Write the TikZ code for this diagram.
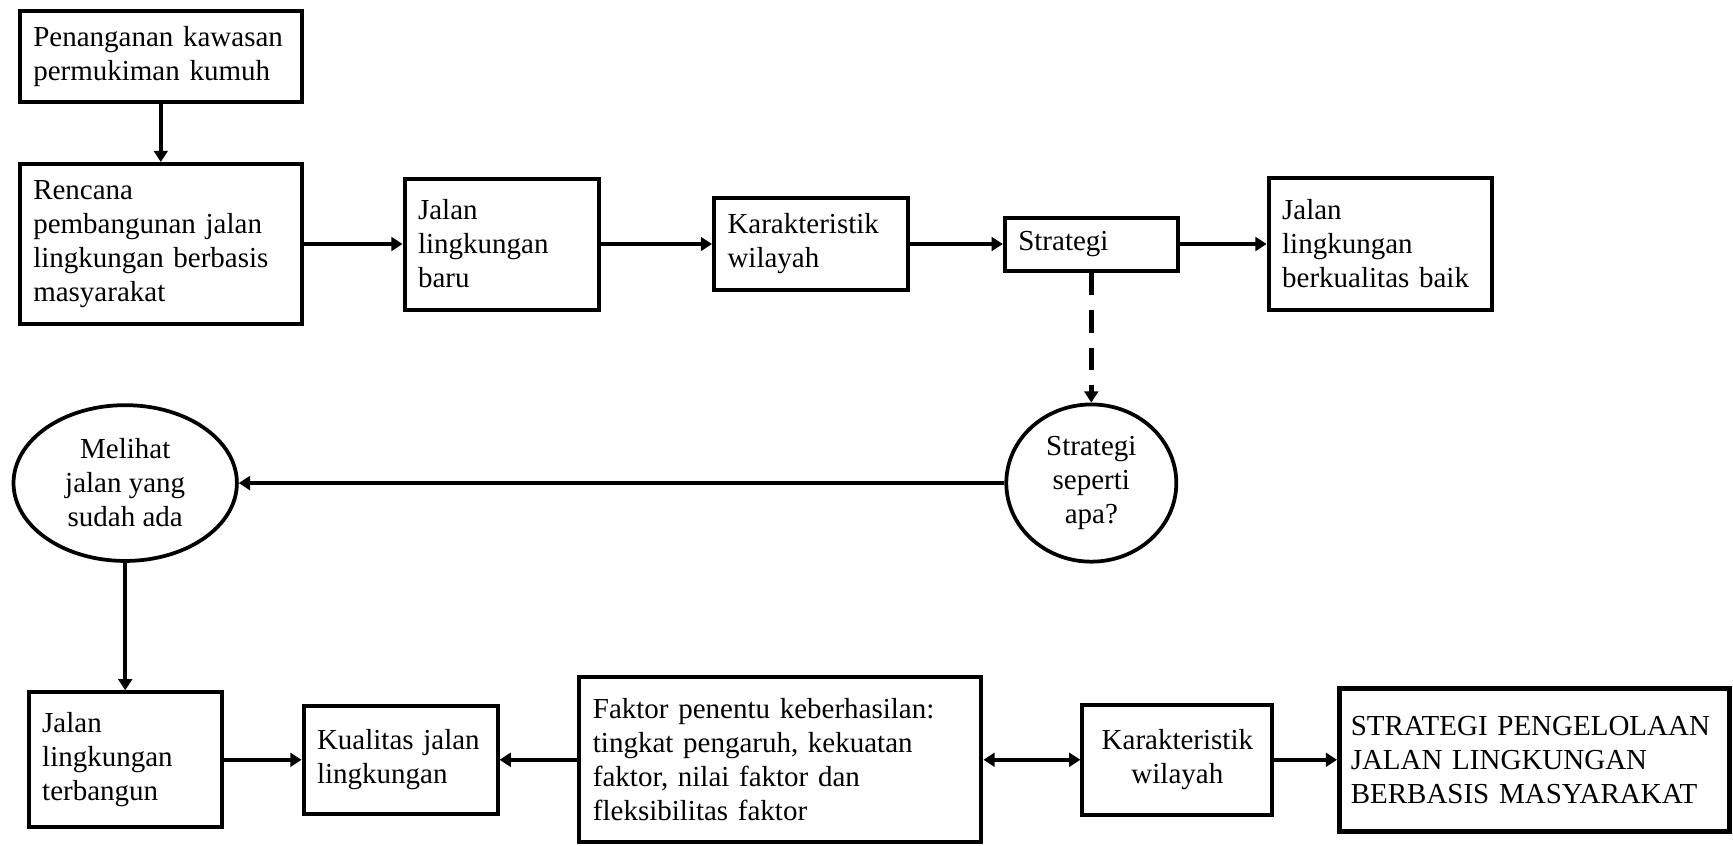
\documentclass[tikz,border=0pt]{standalone}
\usepackage{fontspec}
\setmainfont{Liberation Serif}
\usepackage{tikz}
\usetikzlibrary{shapes,shapes.geometric,arrows.meta,positioning,calc}

\begin{document}
\begin{tikzpicture}[
    box/.style={rectangle, draw, line width=1.6pt, inner xsep=5.4pt, inner ysep=2pt, align=left, font=\fontsize{11.6}{13.6}\selectfont},
    oval/.style={ellipse, draw, line width=1.5pt, inner sep=0pt, align=center, font=\fontsize{11.6}{13.6}\selectfont},
    arrow/.style={-{Triangle[length=4.5pt,width=5.5pt]}, line width=1.4pt},
    twoway/.style={{Triangle[length=4.5pt,width=5.5pt]}-{Triangle[length=4.5pt,width=5.5pt]}, line width=1.4pt}
]
    \useasboundingbox (0,0) rectangle (24.36,11.88);

    % Top row
    \node[box, text width=102pt, minimum height=36.4pt] (kumuh) at (2.26,11.09) {Penanganan kawasan\\permukiman kumuh};
    \node[box, text width=102pt, minimum height=64pt] (rencana) at (2.26,8.45) {Rencana\\pembangunan jalan\\lingkungan berbasis\\masyarakat};
    \node[box, text width=66.8pt, minimum height=52.4pt] (baru) at (7.05,8.45) {Jalan\\lingkungan\\baru};
    \node[box, text width=66.8pt, minimum height=36.8pt] (karakter) at (11.40,8.45) {Karakteristik\\wilayah};
    \node[box, text width=58.4pt, minimum height=21.2pt] (strategi) at (15.34,8.45) {Strategi};
    \node[box, text width=78.4pt, minimum height=52.8pt] (kualitasbaik) at (19.40,8.45) {Jalan\\lingkungan\\berkualitas baik};

    % Middle row
    \node[oval, minimum width=2.39cm, minimum height=2.21cm] (seperti) at (15.34,5.09) {Strategi\\seperti\\apa?};
    \node[oval, minimum width=3.14cm, minimum height=2.19cm] (melihat) at (1.76,5.09) {Melihat\\jalan yang\\sudah ada};

    % Bottom row
    \node[box, text width=66.4pt, minimum height=54pt] (terbangun) at (1.76,1.20) {Jalan\\lingkungan\\terbangun};
    \node[box, text width=66.8pt, minimum height=43.2pt] (kualitas) at (5.63,1.20) {Kualitas jalan\\lingkungan};
    \node[box, text width=150pt, minimum height=66pt] (faktor) at (10.97,1.20) {Faktor penentu keberhasilan:\\tingkat pengaruh, kekuatan\\faktor, nilai faktor dan\\fleksibilitas faktor};
    \node[box, align=center, minimum width=76pt, minimum height=44pt, inner xsep=2pt] (wilayah) at (16.55,1.20) {Karakteristik\\wilayah};
    \node[box, line width=2pt, inner xsep=4.5pt, text width=147pt, minimum height=57.2pt] (hasil) at (21.57,1.20) {STRATEGI PENGELOLAAN\\JALAN LINGKUNGAN\\BERBASIS MASYARAKAT};

    % Connectors
    \draw[arrow] (kumuh) -- (rencana);
    \draw[arrow] (rencana) -- (baru);
    \draw[arrow] (baru) -- (karakter);
    \draw[arrow] (karakter) -- (strategi);
    \draw[arrow] (strategi) -- (kualitasbaik);
    \draw[arrow, line width=1.8pt, dash pattern=on 9pt off 6pt] (strategi) -- (seperti);
    \draw[arrow] (seperti) -- (melihat);
    \draw[arrow] (melihat) -- (terbangun);
    \draw[arrow] (terbangun) -- (kualitas);
    \draw[arrow] (faktor) -- (kualitas);
    \draw[twoway] (faktor) -- (wilayah);
    \draw[arrow] (wilayah) -- (hasil);
\end{tikzpicture}
\end{document}
